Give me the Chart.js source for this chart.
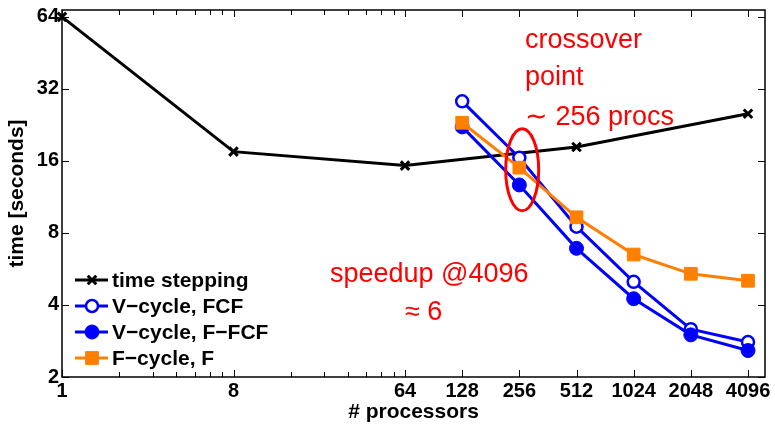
<!DOCTYPE html>
<html>
<head>
<meta charset="utf-8">
<script src="https://cdn.jsdelivr.net/npm/chart.js@4/dist/chart.umd.min.js"></script>
<style>
	html, body { margin: 0; padding: 0; background: #fff; }
	#wrap { width: 775px; height: 425px; }
</style>
</head>
<body>
<div id="wrap"><canvas id="timing_chart" width="775" height="425"></canvas></div>
<script>
// x values (number of processors)
const procsSerial = [1, 8, 64, 512, 4096];
const procsMgrit = [128, 256, 512, 1024, 2048, 4096];

// time in seconds
const timeStepping = [64, 17.5, 15.3, 18.3, 25.2];
const vCycleFCF = [28.4, 16.5, 8.5, 5.0, 3.17, 2.8];
const vCycleFFCF = [22.2, 12.7, 6.9, 4.25, 3.0, 2.58];
const fCycleF = [23.1, 15.0, 9.3, 6.5, 5.4, 5.05];

const seriesNames = ["time stepping", "V\u2212cycle, FCF", "V\u2212cycle, F\u2212FCF", "F\u2212cycle, F"];

const xTickValues = [1, 8, 64, 128, 256, 512, 1024, 2048, 4096];
const xMinorTicks = [2, 3, 4, 5, 6, 7, 16, 24, 32, 40, 48, 56];
const yTickValues = [2, 4, 8, 16, 32, 64];

const blue = "#0000ff";
const orange = "#ff8000";
const red = "#ff0000";

function toPoints(xs, ys) {
	return xs.map(function(x, i) { return {x: x, y: ys[i]}; });
}

// inward ticks + box around the plot, like the matlab figure
const boxTicks = {
	id: "boxTicks",
	beforeDatasetsDraw: function(chart) {
		const ctx = chart.ctx;
		const a = chart.chartArea;
		const xs = chart.scales.x;
		const ys = chart.scales.y;
		ctx.save();
		ctx.strokeStyle = "#000";
		ctx.lineWidth = 1;
		xTickValues.concat(xMinorTicks).forEach(function(v) {
			const px = Math.round(xs.getPixelForValue(v)) + 0.5;
			const len = xMinorTicks.indexOf(v) >= 0 ? 5 : 7;
			ctx.beginPath();
			ctx.moveTo(px, a.bottom); ctx.lineTo(px, a.bottom - len);
			ctx.moveTo(px, a.top); ctx.lineTo(px, a.top + len);
			ctx.stroke();
		});
		yTickValues.forEach(function(v) {
			const py = Math.round(ys.getPixelForValue(v)) + 0.5;
			ctx.beginPath();
			ctx.moveTo(a.left, py); ctx.lineTo(a.left + 7, py);
			ctx.moveTo(a.right, py); ctx.lineTo(a.right - 7, py);
			ctx.stroke();
		});
		ctx.lineWidth = 1.5;
		ctx.strokeRect(a.left, a.top, a.right - a.left, a.bottom - a.top);
		ctx.restore();
	},
	afterDraw: function(chart) {
		const ctx = chart.ctx;
		const a = chart.chartArea;
		const xs = chart.scales.x;
		const ys = chart.scales.y;
		ctx.save();

		// legend in the lower left corner
		ctx.font = "bold 21px 'Liberation Sans', Arial, sans-serif";
		ctx.textBaseline = "middle";
		ctx.textAlign = "left";
		chart.data.datasets.forEach(function(ds, i) {
			const y = 280 + i * 26;
			ctx.strokeStyle = ds.borderColor;
			ctx.lineWidth = 3;
			ctx.beginPath();
			ctx.moveTo(a.left + 13, y);
			ctx.lineTo(a.left + 46, y);
			ctx.stroke();
			ctx.fillStyle = ds.pointBackgroundColor;
			ctx.strokeStyle = ds.pointBorderColor;
			ctx.lineWidth = ds.pointBorderWidth;
			Chart.helpers.drawPoint(ctx, {
				pointStyle: ds.pointStyle,
				radius: ds.pointRadius,
				borderWidth: ds.pointBorderWidth,
				rotation: 0
			}, a.left + 30, y);
			ctx.fillStyle = "#000";
			ctx.fillText(ds.label, a.left + 50, y + 1);
		});

		// red annotations
		ctx.fillStyle = red;
		ctx.font = "27px 'Liberation Sans', Arial, sans-serif";
		ctx.textBaseline = "alphabetic";
		ctx.fillText("crossover", 525, 48);
		ctx.fillText("point", 525, 85);
		ctx.fillText("\u223C 256 procs", 525, 125);
		ctx.fillText("speedup @4096", 330, 282);
		ctx.fillText("\u2248 6", 405, 320);

		// ellipse round the crossing at 256 procs
		ctx.strokeStyle = red;
		ctx.lineWidth = 3;
		ctx.beginPath();
		ctx.ellipse(xs.getPixelForValue(265), ys.getPixelForValue(14.7), 16.5, 41, 0, 0, 2 * Math.PI);
		ctx.stroke();
		ctx.restore();
	}
};

new Chart(document.getElementById("timing_chart"), {
	type: "line",
	data: {
		datasets: [
			{
				label: seriesNames[0],
				data: toPoints(procsSerial, timeStepping),
				borderColor: "#000",
				borderWidth: 3,
				pointStyle: "crossRot",
				pointRadius: 6,
				pointBorderWidth: 3,
				pointBorderColor: "#000",
				pointBackgroundColor: "#000",
				order: 4,
			},
			{
				label: seriesNames[1],
				data: toPoints(procsMgrit, vCycleFCF),
				borderColor: blue,
				borderWidth: 3,
				pointStyle: "circle",
				pointRadius: 6,
				pointBorderWidth: 2.5,
				pointBorderColor: blue,
				pointBackgroundColor: "#fff",
				order: 3,
			},
			{
				label: seriesNames[2],
				data: toPoints(procsMgrit, vCycleFFCF),
				borderColor: blue,
				borderWidth: 3,
				pointStyle: "circle",
				pointRadius: 7,
				pointBorderWidth: 1,
				pointBorderColor: blue,
				pointBackgroundColor: blue,
				order: 2,
			},
			{
				label: seriesNames[3],
				data: toPoints(procsMgrit, fCycleF),
				borderColor: orange,
				borderWidth: 3,
				pointStyle: "rect",
				pointRadius: 9,
				pointBorderWidth: 1,
				pointBorderColor: orange,
				pointBackgroundColor: orange,
				order: 1,
			},
		]
	},
	options: {
		responsive: false,
		animation: false,
		clip: false,
		layout: {padding: {left: 5, top: 7, right: 9, bottom: 0}},
		plugins: {
			legend: {display: false},
			tooltip: {enabled: false},
		},
		scales: {
			x: {
				type: "logarithmic",
				min: 1,
				max: 5033,
				grid: {display: false, drawTicks: false},
				border: {display: false},
				afterBuildTicks: function(scale) {
					scale.ticks = xTickValues.map(function(v) { return {value: v}; });
				},
				afterFit: function(scale) {
					scale.height = 48;
					scale.paddingLeft = 0;
					scale.paddingRight = 0;
				},
				ticks: {
					autoSkip: false,
					maxRotation: 0,
					padding: 2,
					color: "#000",
					font: {family: "'Liberation Sans', Arial, sans-serif", size: 20, weight: "bold"},
					callback: function(v) { return String(v); },
				},
				title: {
					display: true,
					text: "# processors",
					color: "#000",
					padding: 0,
					font: {family: "'Liberation Sans', Arial, sans-serif", size: 21, weight: "bold"},
				},
			},
			y: {
				type: "logarithmic",
				min: 2,
				max: 68.4,
				grid: {display: false, drawTicks: false},
				border: {display: false},
				afterBuildTicks: function(scale) {
					scale.ticks = yTickValues.map(function(v) { return {value: v}; });
				},
				afterFit: function(scale) {
					scale.width = 57;
					scale.paddingTop = 0;
					scale.paddingBottom = 0;
				},
				ticks: {
					padding: 3,
					color: "#000",
					font: {family: "'Liberation Sans', Arial, sans-serif", size: 20, weight: "bold"},
					callback: function(v) { return String(v); },
				},
				title: {
					display: true,
					text: "time [seconds]",
					color: "#000",
					padding: 0,
					font: {family: "'Liberation Sans', Arial, sans-serif", size: 21, weight: "bold"},
				},
			},
		}
	},
	plugins: [boxTicks]
});
</script>
</body>
</html>
